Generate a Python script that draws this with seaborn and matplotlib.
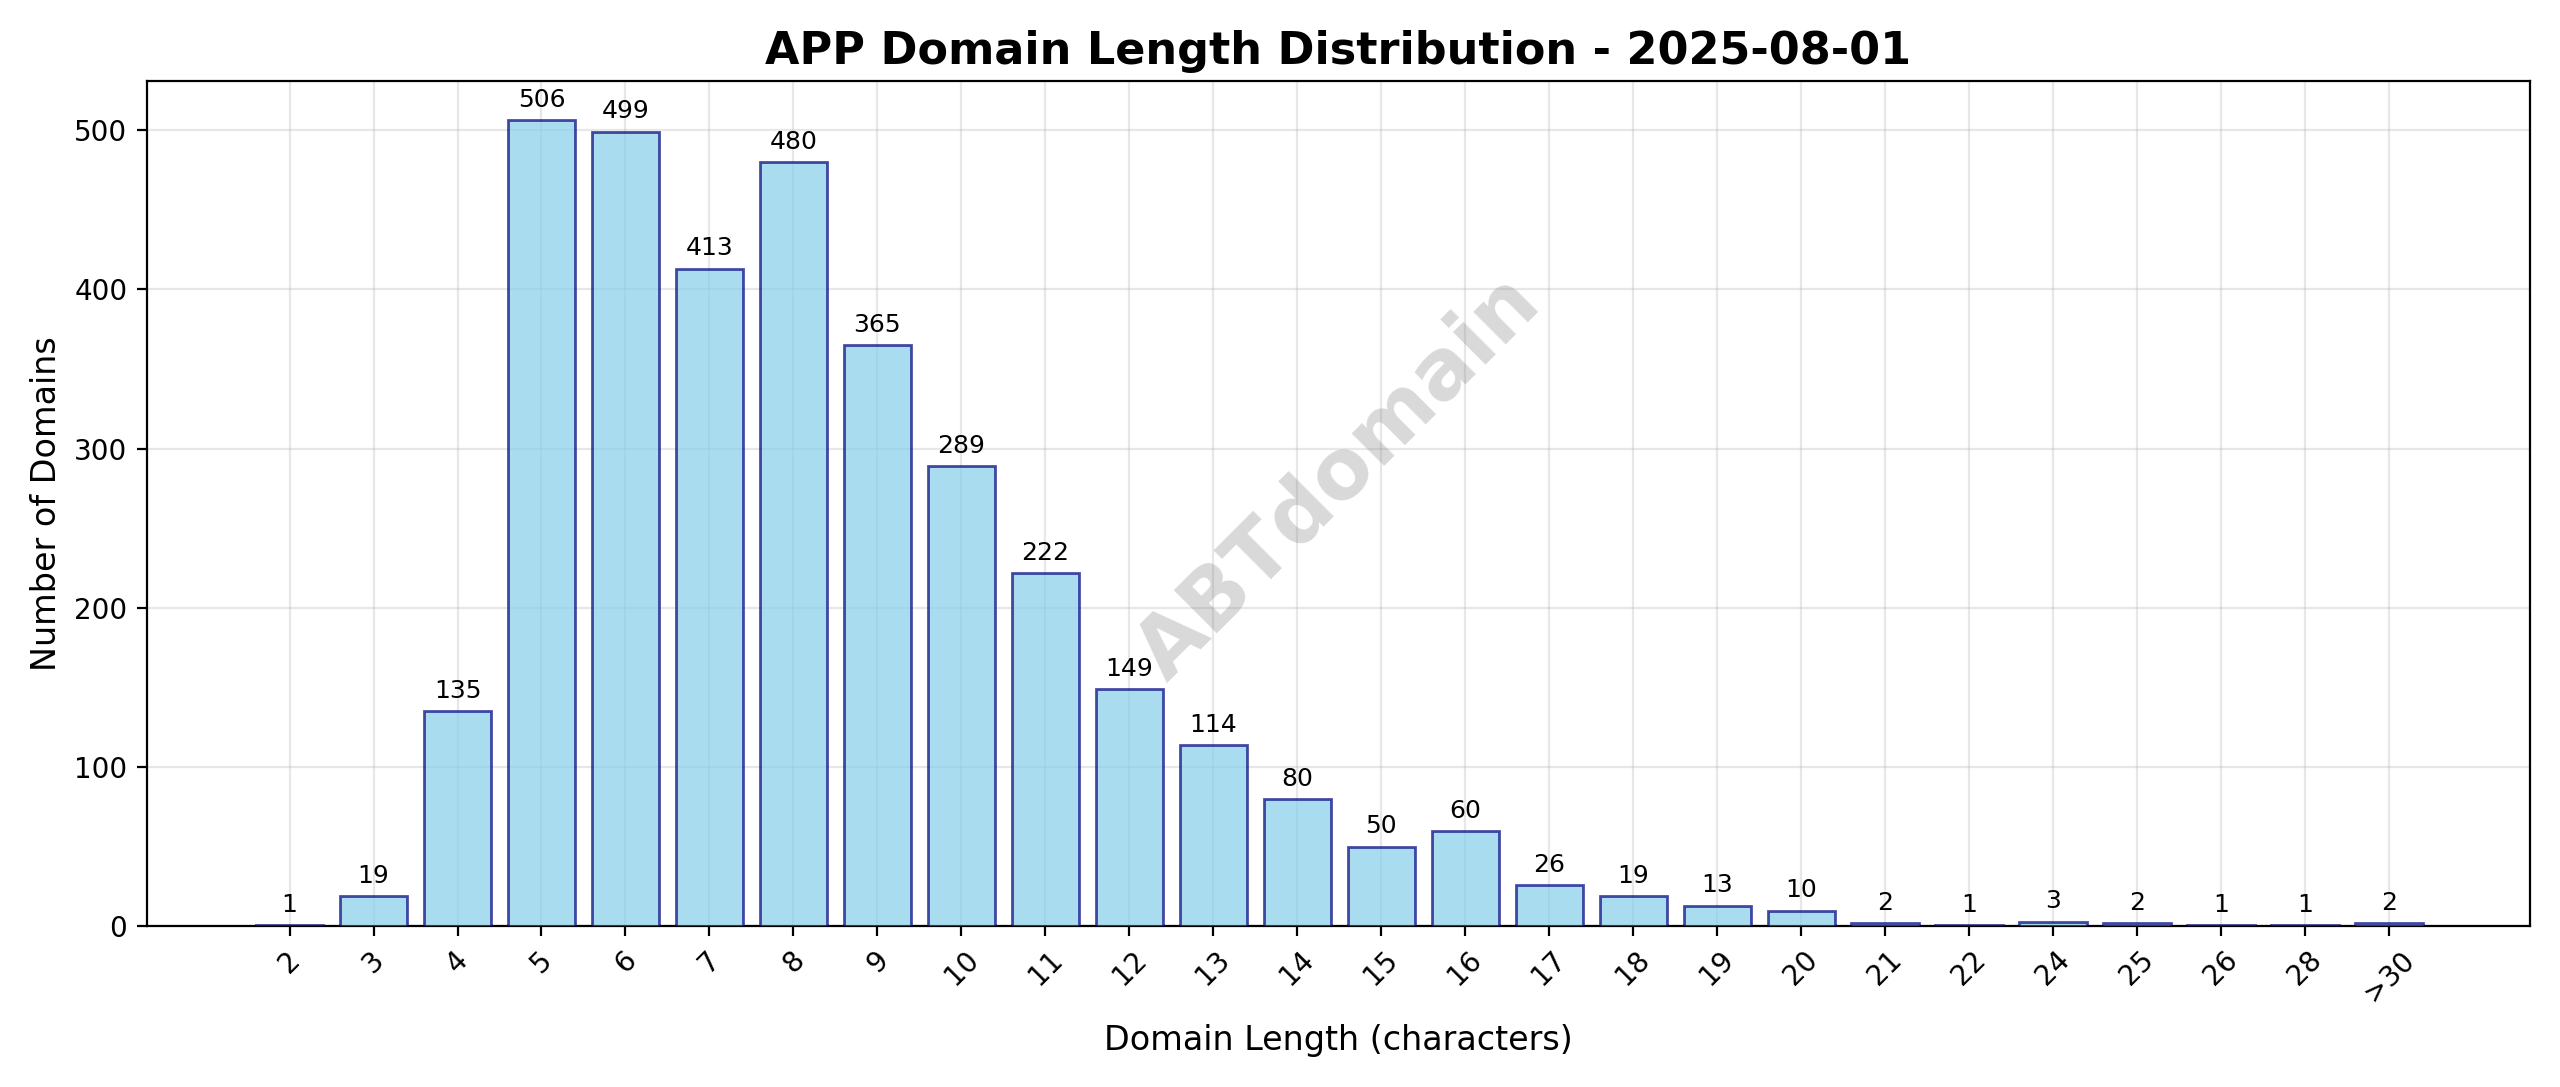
import matplotlib
matplotlib.use("Agg")
import matplotlib.pyplot as plt
import seaborn as sns

lengths = ["2", "3", "4", "5", "6", "7", "8", "9", "10", "11", "12", "13", "14",
           "15", "16", "17", "18", "19", "20", "21", "22", "24", "25", "26", "28", ">30"]
counts = [1, 19, 135, 506, 499, 413, 480, 365, 289, 222, 149, 114, 80,
          50, 60, 26, 19, 13, 10, 2, 1, 3, 2, 1, 1, 2]

fig, ax = plt.subplots(figsize=(12.8, 5.435), dpi=200)
sns.barplot(x=lengths, y=counts, color="skyblue", alpha=0.7, edgecolor="navy",
            linewidth=1, width=0.8, saturation=1, ax=ax, zorder=3)
for p in ax.patches:
    p.set_edgecolor((0.0, 0.0, 0.5, 0.7))

for i, c in enumerate(counts):
    ax.annotate(str(c), (i, c), xytext=(0, 3), textcoords="offset points",
                ha="center", va="bottom", fontsize=9)

ax.set_xlim(-1.7, len(lengths) + 0.68)
ax.set_ylim(0, 531)
ax.grid(True, alpha=0.3, zorder=0)
ax.set_axisbelow(True)
ax.set_title("APP Domain Length Distribution - 2025-08-01", fontsize=16, fontweight="bold")
ax.set_xlabel("Domain Length (characters)", fontsize=12, labelpad=6)
ax.set_ylabel("Number of Domains", fontsize=12)
ax.tick_params(axis="both", labelsize=10)
plt.xticks(rotation=45)
ax.text(0.5, 0.53, "ABTdomain", transform=ax.transAxes, fontsize=30, fontweight="bold",
        color="gray", alpha=0.3, rotation=45, ha="center", va="center")

plt.tight_layout()
plt.savefig("out.png", dpi=200)
